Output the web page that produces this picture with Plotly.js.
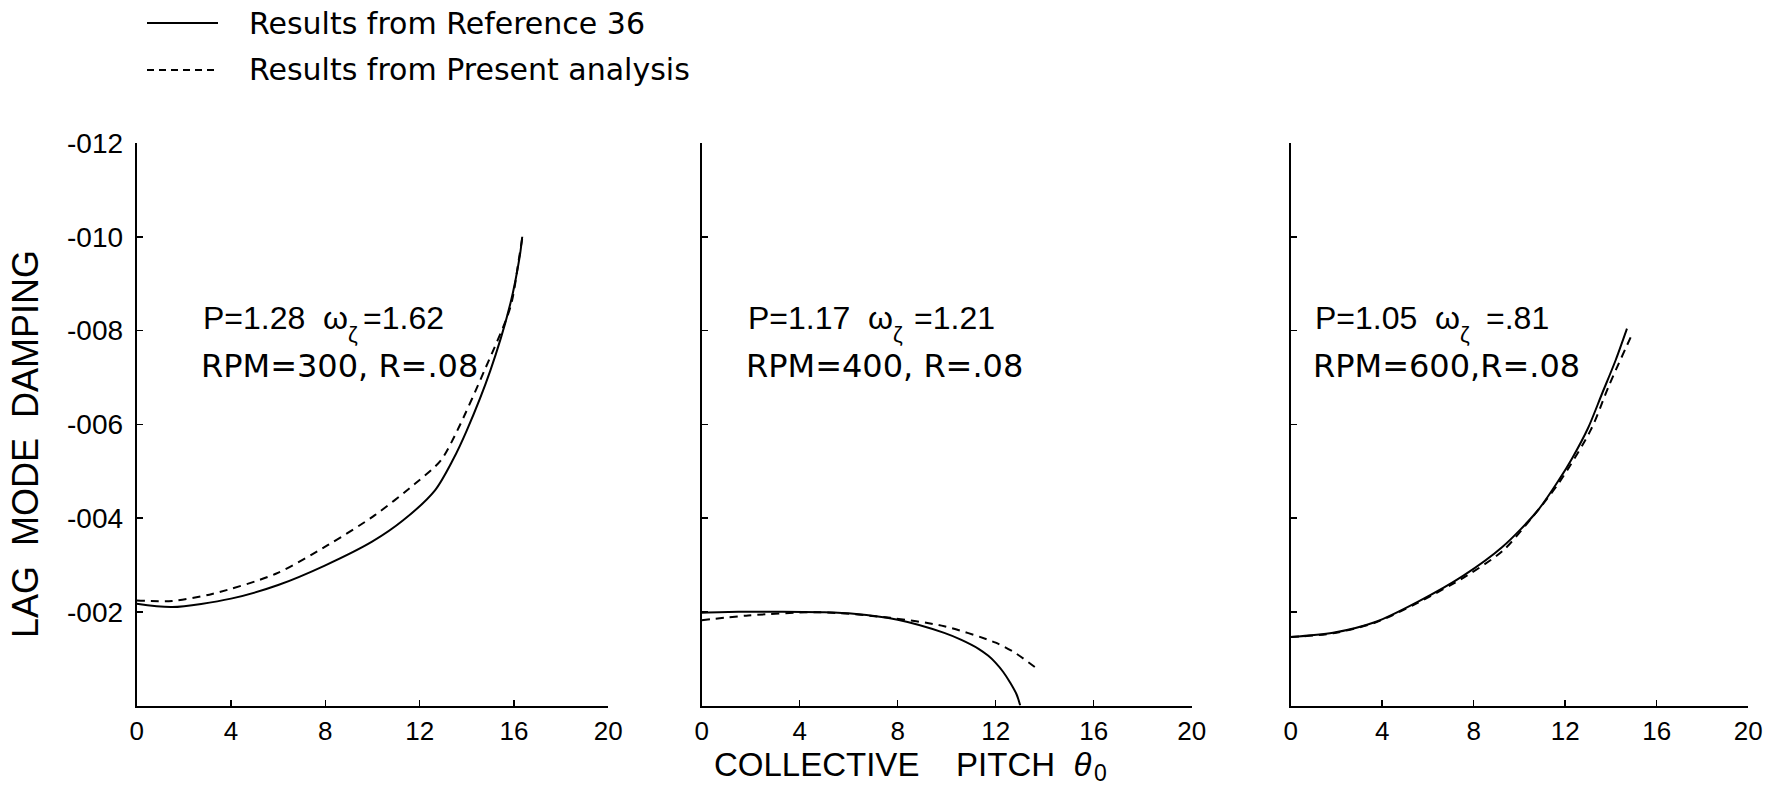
<!DOCTYPE html>
<html>
<head>
<meta charset="utf-8">
<script src="https://cdn.plot.ly/plotly-3.0.1.min.js"></script>
<style>html,body{margin:0;padding:0;background:#fff;}</style>
</head>
<body>
<div id="chart" style="width:1774px;height:794px;"></div>
<script>
// ---- Data (collective pitch in degrees, lag mode damping) ----
const pitchRef1 = [0, 1.5, 4, 6, 8, 10, 11.3, 12.65, 13.4, 14.0, 15.0, 15.85, 16.25, 16.35];
const dampRef1  = [-0.00217, -0.00210, -0.00228, -0.00257, -0.00299, -0.00350, -0.00395, -0.00459, -0.00523, -0.00587, -0.00715, -0.00858, -0.00960, -0.01000];
const pitchPre1 = [0, 1.5, 3.2, 5.9, 8.1, 10.1, 11.8, 12.9, 13.6, 14.75, 15.85, 16.2, 16.35];
const dampPre1  = [-0.00224, -0.00223, -0.00238, -0.00281, -0.00342, -0.00406, -0.00473, -0.00523, -0.00587, -0.00715, -0.00850, -0.00950, -0.00997];

const pitchRef2 = [0, 1.5, 3.3, 5, 6.2, 8, 9.9, 10.6, 11.3, 11.7, 12.0, 12.3, 12.6, 12.85, 13.0];
const dampRef2  = [-0.00198, -0.00200, -0.00200, -0.00199, -0.00196, -0.00183, -0.00155, -0.00140, -0.00121, -0.00106, -0.00091, -0.00072, -0.00048, -0.00024, 0];
const pitchPre2 = [0, 1.9, 4.8, 7.7, 9.9, 12.0, 12.8, 13.6];
const dampPre2  = [-0.00182, -0.00192, -0.00199, -0.00187, -0.00169, -0.00134, -0.00112, -0.00082];

const pitchRef3 = [0, 1.85, 3.7, 5.55, 7.55, 9.25, 10.8, 11.75, 12.3, 13.0, 13.6, 14.2, 14.7];
const dampRef3  = [-0.00146, -0.00155, -0.00178, -0.00221, -0.00277, -0.00338, -0.00416, -0.00483, -0.00527, -0.00592, -0.00664, -0.00736, -0.00804];
const pitchPre3 = [0, 1.85, 3.7, 5.55, 7.7, 9.27, 10.5, 11.74, 13.13, 13.9, 14.95];
const dampPre3  = [-0.00146, -0.00154, -0.00177, -0.00219, -0.00277, -0.00330, -0.00398, -0.00476, -0.00589, -0.00681, -0.00795];

const xTickVals = [0, 4, 8, 12, 16, 20];
const xTickText = ["0", "4", "8", "12", "16", "20"];
const yTickVals = [-0.002, -0.004, -0.006, -0.008, -0.010, -0.012];
const yTickText = ["-002", "-004", "-006", "-008", "-010", "-012"];

const seriesNames = ["Results from Reference 36", "Results from Present analysis"];
const paramLeft  = ["P=1.28\u00A0\u00A0ω", "P=1.17\u00A0\u00A0ω", "P=1.05\u00A0\u00A0ω"];
const paramSub   = ["ζ", "ζ", "ζ"];
const paramRight = ["=1.62", "=1.21", "=.81"];
const rpmLines = ["RPM=300, R=.08", "RPM=400, R=.08", "RPM=600,R=.08"];
const xTitleMain = "COLLECTIVE\u00A0\u00A0\u00A0\u00A0PITCH\u00A0\u00A0<i>θ</i>";
const xTitleSub = "0";
const yTitle = "LAG\u00A0\u00A0MODE\u00A0\u00A0DAMPING";

// ---- Layout helpers (pixel -> paper) ----
const W = 1774, H = 794;
const px = v => v / W;
const py = v => 1 - v / H;
const FONT = '"Liberation Sans", Arial, sans-serif';
const FONT2 = '"DejaVu Sans", "Liberation Sans", sans-serif';

const solid = {color: '#000', width: 2, shape: 'spline', smoothing: 0.8};
const dashed = {color: '#000', width: 2, dash: '8px,6px', shape: 'spline', smoothing: 0.8};

const traces = [
  {x: pitchRef1, y: dampRef1, xaxis: 'x', yaxis: 'y', name: seriesNames[0], mode: 'lines', line: solid},
  {x: pitchPre1, y: dampPre1, xaxis: 'x', yaxis: 'y', name: seriesNames[1], mode: 'lines', line: dashed},
  {x: pitchRef2, y: dampRef2, xaxis: 'x2', yaxis: 'y2', name: seriesNames[0], mode: 'lines', line: solid},
  {x: pitchPre2, y: dampPre2, xaxis: 'x2', yaxis: 'y2', name: seriesNames[1], mode: 'lines', line: dashed},
  {x: pitchRef3, y: dampRef3, xaxis: 'x3', yaxis: 'y3', name: seriesNames[0], mode: 'lines', line: solid},
  {x: pitchPre3, y: dampPre3, xaxis: 'x3', yaxis: 'y3', name: seriesNames[1], mode: 'lines', line: dashed}
];

const yDomain = [py(705.5), py(143)];
function xAxis(domain, anchor) {
  return {
    domain: domain, anchor: anchor, range: [0, 20],
    showgrid: false, zeroline: false,
    showline: true, linecolor: '#000', linewidth: 2,
    ticks: 'inside', ticklen: 6, tickwidth: 1.5, tickcolor: '#000',
    tickvals: xTickVals, ticktext: xTickText,
    tickfont: {family: FONT, size: 26, color: '#000'},
    ticklabelstandoff: 1, fixedrange: true
  };
}
function yAxis(anchor, labels) {
  return {
    domain: yDomain, anchor: anchor, range: [0, -0.012],
    showgrid: false, zeroline: false,
    showline: true, linecolor: '#000', linewidth: 2,
    ticks: 'inside', ticklen: 6, tickwidth: 1.5, tickcolor: '#000',
    tickvals: yTickVals, ticktext: yTickText,
    showticklabels: labels,
    tickfont: {family: FONT, size: 28, color: '#000'},
    ticklabelstandoff: 6, fixedrange: true
  };
}

const annFont = {family: FONT, size: 32, color: '#000'};
const annFont2 = {family: FONT2, size: 32, color: '#000'};
const subFont = {family: FONT, size: 22, color: '#000'};
const annotations = [];
const annX = [201.7, 747, 1313.6];
const subX = [347, 892, 1459];
const rightX = [362, 913, 1485];
function ann(x, y, text, font, xanchor, extra) {
  return Object.assign({xref: 'paper', yref: 'paper', x: px(x), y: py(y), xanchor: xanchor || 'left',
    yanchor: 'middle', text: text, showarrow: false, borderpad: 0, font: font}, extra || {});
}
for (let i = 0; i < 3; i++) {
  annotations.push(ann(annX[i], 318, paramLeft[i], annFont));
  annotations.push(ann(subX[i], 334, paramSub[i], subFont));
  annotations.push(ann(rightX[i], 318, paramRight[i], annFont));
  annotations.push(ann(annX[i] - 2, 366, rpmLines[i], annFont2));
}
// axis titles
annotations.push(ann(713, 764, xTitleMain, {family: FONT, size: 33, color: '#000'}));
annotations.push(ann(1093, 773, xTitleSub, {family: FONT, size: 23, color: '#000'}));
annotations.push(ann(25, 444, yTitle, {family: FONT, size: 36, color: '#000'}, 'center', {textangle: -90}));
// legend texts
annotations.push(ann(248, 23.5, seriesNames[0], {family: FONT2, size: 30, color: '#000'}));
annotations.push(ann(248, 70, seriesNames[1], {family: FONT2, size: 30, color: '#000'}));

const shapes = [
  {type: 'line', xref: 'paper', yref: 'paper', x0: px(147), x1: px(218), y0: py(23), y1: py(23),
   line: {color: '#000', width: 2}},
  {type: 'line', xref: 'paper', yref: 'paper', x0: px(147), x1: px(218), y0: py(70), y1: py(70),
   line: {color: '#000', width: 2, dash: '7px,5px'}}
];

const layout = {
  width: W, height: H,
  margin: {l: 0, r: 0, t: 0, b: 0, pad: 0},
  paper_bgcolor: '#fff', plot_bgcolor: '#fff',
  showlegend: false,
  font: {family: FONT, color: '#000'},
  xaxis: xAxis([px(136.7), px(608.3)], 'y'),
  yaxis: yAxis('x', true),
  xaxis2: xAxis([px(701.7), px(1191.7)], 'y2'),
  yaxis2: yAxis('x2', false),
  xaxis3: xAxis([px(1290.7), px(1748.2)], 'y3'),
  yaxis3: yAxis('x3', false),
  annotations: annotations,
  shapes: shapes
};

Plotly.newPlot('chart', traces, layout, {displayModeBar: false, staticPlot: true});
</script>
</body>
</html>
